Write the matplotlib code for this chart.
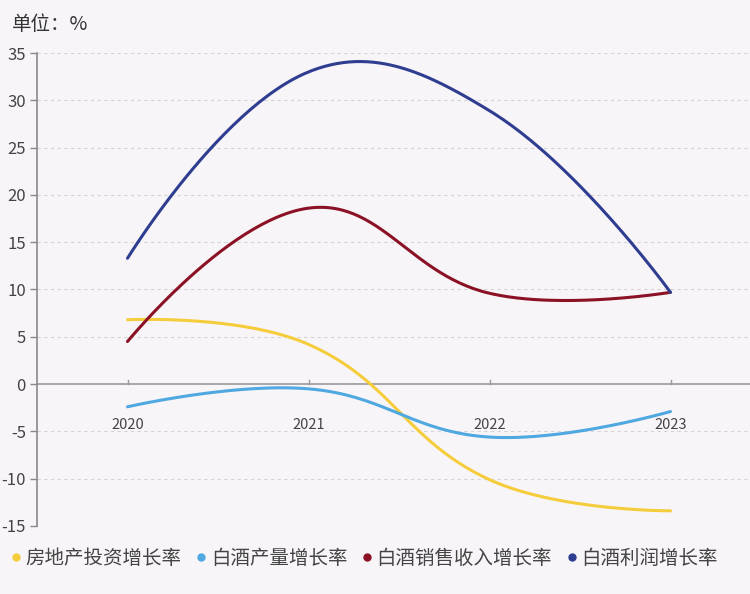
import numpy as np
import matplotlib.pyplot as plt
from matplotlib.lines import Line2D

plt.rcParams['font.family'] = ['Noto Sans CJK SC', 'DejaVu Sans']
plt.rcParams['axes.unicode_minus'] = False

years = ['2020', '2021', '2022', '2023']
series_names = ['房地产投资增长率', '白酒产量增长率', '白酒销售收入增长率', '白酒利润增长率']
realestate = [6.8, 4.2, -10.1, -13.4]
liquor_output = [-2.4, -0.5, -5.6, -2.9]
liquor_revenue = [4.5, 18.6, 9.6, 9.7]
liquor_profit = [13.3, 33.0, 28.9, 9.7]
colors = ['#f5cd3c', '#4fa8e0', '#8b1225', '#2e3d8f']

BG = '#f8f5f9'
SX, SY = 181.0, 9.46  # px per category / per unit, used for smoothing


def smooth_curve(xs, ys, smooth=0.42, n=60):
	# echarts-like bezier smoothing, done in pixel space
	P = np.column_stack([np.asarray(xs, float) * SX, np.asarray(ys, float) * SY])
	k = len(P)
	cps = []
	for i in range(k):
		if i == 0 or i == k - 1:
			cps.append((P[i], P[i]))
			continue
		v = (P[i + 1] - P[i - 1]) * smooth
		d0 = np.linalg.norm(P[i] - P[i - 1])
		d1 = np.linalg.norm(P[i + 1] - P[i])
		cps.append((P[i] - v * d0 / (d0 + d1), P[i] + v * d1 / (d0 + d1)))
	t = np.linspace(0, 1, n)[:, None]
	pts = []
	for i in range(k - 1):
		p0, p3 = P[i], P[i + 1]
		p1, p2 = cps[i][1], cps[i + 1][0]
		u = 1 - t
		seg = u**3 * p0 + 3 * u**2 * t * p1 + 3 * u * t**2 * p2 + t**3 * p3
		pts.append(seg if i == 0 else seg[1:])
	pts = np.vstack(pts)
	return pts[:, 0] / SX, pts[:, 1] / SY


fig = plt.figure(figsize=(7.5, 5.94), dpi=100, facecolor=BG)
ax = fig.add_axes([37 / 750, 1 - 526 / 594, (761 - 37) / 750, (526 - 53) / 594])
ax.set_facecolor(BG)

x = np.arange(len(years))
for vals, c in zip([realestate, liquor_output, liquor_revenue, liquor_profit], colors):
	sx, sy = smooth_curve(x, vals)
	ax.plot(sx, sy, color=c, lw=2.2, solid_capstyle='round', zorder=3)

ax.set_xlim(-0.5, 3.5)
ax.set_ylim(-15, 35)
ax.set_yticks(np.arange(-15, 36, 5))
for yv in np.arange(-15, 36, 5):
	if yv == 0:
		continue
	ax.axhline(yv, color='#d6d3d6', lw=0.8, ls=(0, (3, 3)), zorder=1)
ax.axhline(0, color='#9a989a', lw=1.2, zorder=2)

for s in ['top', 'right', 'bottom']:
	ax.spines[s].set_visible(False)
ax.spines['left'].set_color('#8a888a')
ax.spines['left'].set_linewidth(1.2)
ax.tick_params(axis='y', colors='#8a888a', labelcolor='#444444', labelsize=12, length=5, width=1, pad=3)
ax.set_xticks([])

# category ticks and labels sitting on the zero line
for i, lab in enumerate(years):
	ax.plot([i, i], [0, 0.4], color='#9a989a', lw=1, zorder=2)
	ax.text(i, -4.3, lab, ha='center', va='center', fontsize=10.5, color='#444444')

fig.text(12 / 750, 1 - 24 / 594, '单位：%', fontsize=14, color='#333333', va='center')

handles = [Line2D([], [], marker='o', ls='none', color=c, markersize=5) for c in colors]
fig.legend(handles, series_names, loc='center', bbox_to_anchor=(363 / 750, 1 - 558 / 594),
		   ncol=4, frameon=False, fontsize=14, handletextpad=0.1, columnspacing=0.6,
		   handlelength=0.8, labelcolor='#444444')

fig.savefig('out.png', dpi=100, facecolor=BG)
